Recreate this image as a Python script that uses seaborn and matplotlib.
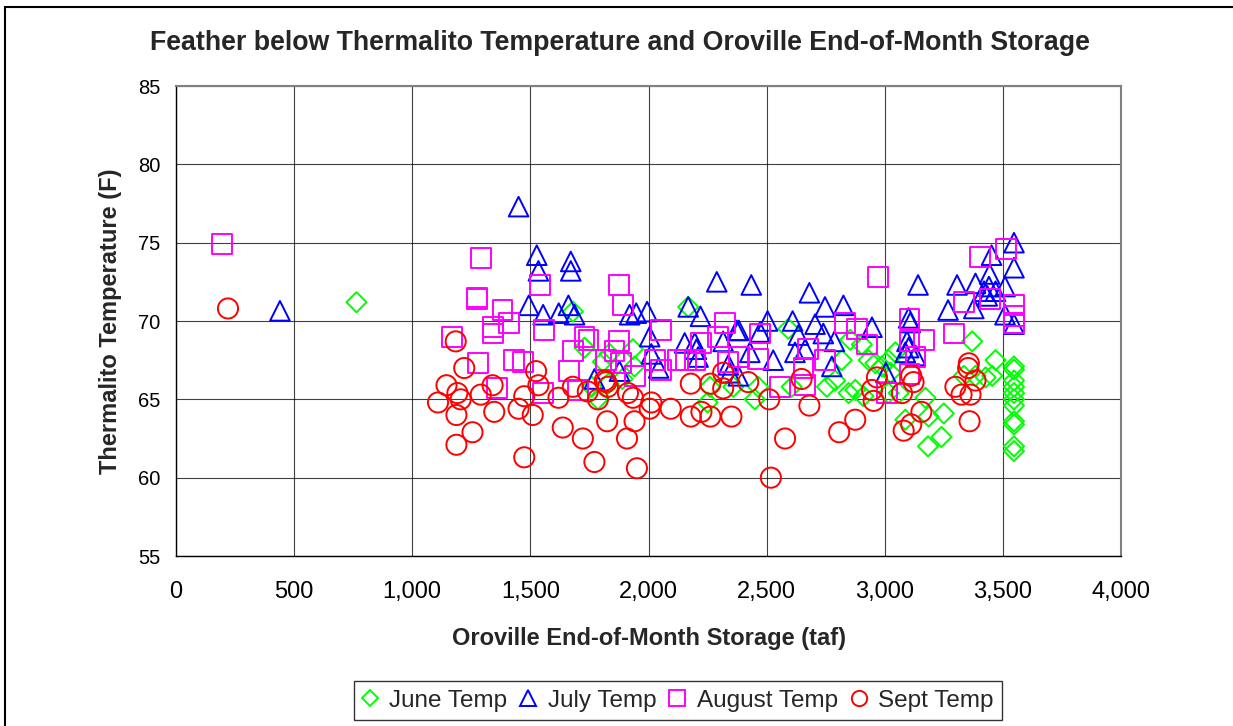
import matplotlib
matplotlib.use("Agg")
import matplotlib.pyplot as plt
import matplotlib.ticker as mticker
from matplotlib.lines import Line2D
from matplotlib.patches import Rectangle
import seaborn as sns
import pandas as pd

# ---------------- data ----------------
june_storage = [764, 1680, 2168, 1729, 1807, 1835, 1934, 1941, 1786, 1890, 1760, 1830,
                2260, 2250, 2359, 2592, 2450, 2464, 2606, 2755, 2790, 2818, 2847, 2875,
                2854, 2903, 2932, 2960, 2988, 3024, 3045, 2910, 3016, 3172, 3186, 3250,
                3087, 3240, 3183, 3370, 3335, 3384, 3469, 3427, 3455, 3547, 3547, 3547,
                3547, 3547, 3547, 3547, 3547, 3547, 3547, 3547, 3059, 3016]
june_temp = [71.2, 70.6, 70.9, 68.3, 67.4, 67.9, 68.2, 67.1, 65.0, 66.3, 65.8, 66.0,
             65.8, 64.8, 65.8, 69.5, 65.0, 65.8, 65.8, 65.8, 66.2, 67.5, 65.4, 65.6,
             68.8, 68.5, 67.5, 67.3, 67.1, 66.7, 68.0, 65.2, 65.4, 65.1, 63.9, 64.1,
             63.7, 62.6, 62.0, 68.7, 66.5, 66.5, 67.5, 66.4, 66.5, 67.1, 66.9, 66.2,
             65.8, 65.4, 65.0, 64.6, 63.6, 63.4, 62.0, 61.7, 65.4, 67.5]

july_storage = [440, 1450, 1527, 1534, 1671, 1671, 1493, 1554, 1620, 1661, 1687, 2289,
                2168, 2220, 1920, 1948, 1994, 2005, 2153, 2196, 2316, 2373, 2012, 2043,
                1877, 1771, 2210, 2338, 2435, 2681, 2747, 2825, 2382, 2472, 2504, 2610,
                2634, 2705, 2740, 2787, 2946, 2203, 2528, 2429, 2620, 2663, 2776, 3005,
                2344, 2380, 3101, 3108, 3101, 3094, 3130, 3141, 3268, 3306, 3384, 3547,
                3452, 3547, 3444, 3441, 3420, 3469, 3509, 3434, 3377, 3509, 3547, 3087]
july_temp = [70.65, 77.3, 74.2, 73.2, 73.8, 73.2, 71.0, 70.4, 70.5, 71.0, 70.4, 72.5,
             70.9, 70.3, 70.4, 70.5, 70.6, 69.0, 68.6, 68.6, 68.7, 69.4, 67.9, 67.0,
             66.8, 66.3, 67.7, 67.2, 72.3, 71.8, 70.9, 71.0, 69.4, 69.3, 70.0, 70.0,
             69.1, 69.8, 69.2, 68.7, 69.6, 68.2, 67.5, 68.0, 68.0, 68.2, 67.1, 66.7,
             66.7, 66.5, 70.2, 69.9, 68.3, 68.7, 67.8, 72.3, 70.7, 72.3, 72.4, 75.0,
             74.2, 73.4, 73.0, 72.2, 71.9, 71.9, 72.2, 71.6, 70.8, 70.4, 69.8, 68.0]

august_storage = [195, 1290, 1273, 1273, 1382, 1408, 1340, 1340, 1170, 1542, 1875, 1892,
                  1559, 2052, 2323, 1729, 1746, 1875, 1856, 1680, 1665, 1279, 1432, 1467,
                  1358, 1552, 1701, 1885, 1941, 2026, 2054, 2125, 2196, 2224, 2295, 2338,
                  1821, 2970, 2472, 2832, 2882, 2924, 2677, 2656, 2663, 2556, 2747, 2382,
                  2160, 2464, 3105, 3105, 3165, 3130, 3292, 3335, 3405, 3105, 3009, 3512,
                  3444, 3547, 3547, 3547]
august_temp = [74.9, 74.0, 71.5, 71.4, 70.7, 69.9, 69.6, 69.2, 69.0, 72.3, 72.3, 71.0,
               69.4, 69.4, 69.9, 69.0, 68.8, 68.7, 68.1, 68.1, 66.8, 67.3, 67.5, 67.4,
               65.7, 65.4, 65.6, 67.3, 66.5, 67.5, 66.9, 67.5, 67.5, 68.6, 69.0, 67.4,
               67.5, 72.8, 69.2, 69.9, 69.5, 68.5, 68.2, 67.0, 65.9, 65.8, 67.5, 67.7,
               67.5, 67.6, 70.1, 68.7, 68.8, 67.7, 69.2, 71.2, 74.1, 66.6, 65.4, 74.6,
               71.4, 71.0, 70.3, 69.9]

sept_storage = [220, 1184, 1220, 1145, 1191, 1205, 1109, 1187, 1255, 1187, 1290, 1340,
                1347, 1450, 1474, 1524, 1534, 1510, 1474, 1619, 1637, 1680, 1722, 1743,
                1771, 1786, 1821, 1828, 1825, 1815, 1913, 1934, 1909, 1941, 1951, 2012,
                2005, 2094, 2179, 2179, 2224, 2262, 2316, 2316, 2351, 2262, 2422, 2511,
                2578, 2518, 2648, 2681, 2807, 2875, 2946, 2967, 2953, 3073, 3112, 3122,
                3080, 3112, 3155, 3299, 3325, 3356, 3353, 3363, 3359, 3384]
sept_temp = [70.8, 68.7, 67.0, 65.9, 65.4, 65.0, 64.8, 64.0, 62.9, 62.1, 65.3, 65.9,
             64.2, 64.4, 65.2, 66.8, 65.9, 64.0, 61.3, 65.1, 63.2, 65.8, 62.5, 65.5,
             61.0, 65.0, 66.1, 65.8, 63.6, 66.2, 65.4, 65.1, 62.5, 63.6, 60.6, 64.8,
             64.4, 64.4, 66.0, 63.9, 64.2, 63.9, 65.7, 66.7, 63.9, 66.0, 66.1, 65.0,
             62.5, 60.0, 66.3, 64.6, 62.9, 63.7, 65.6, 66.4, 64.9, 65.4, 66.5, 66.1,
             63.0, 63.4, 64.2, 65.8, 65.3, 67.3, 67.0, 65.3, 63.6, 66.2]

series_labels = ["June Temp", "July Temp", "August Temp", "Sept Temp"]
x_ticks = [0, 500, 1000, 1500, 2000, 2500, 3000, 3500, 4000]
y_ticks = [55, 60, 65, 70, 75, 80, 85]

title = "Feather below Thermalito Temperature and Oroville End-of-Month Storage"
x_label = "Oroville End-of-Month Storage (taf)"
y_label = "Thermalito Temperature (F)"

# ---------------- styling ----------------
sns.set_style("white")
plt.rcParams['font.family'] = ['Liberation Sans', 'DejaVu Sans']

colors = ["#00FF00", "#0000FF", "#FF00FF", "#FF0000"]
markers = ["D", "^", "s", "o"]
sizes = [105, 200, 205, 210]

frames = []
for lab, xs, ys in zip(series_labels,
                       [june_storage, july_storage, august_storage, sept_storage],
                       [june_temp, july_temp, august_temp, sept_temp]):
    frames.append(pd.DataFrame({"storage": xs, "temp": ys, "series": lab}))
df = pd.concat(frames, ignore_index=True)

fig = plt.figure(figsize=(12.33, 7.26), dpi=100)
ax = fig.add_axes([176 / 1233, 1 - 556 / 726, (1121 - 176) / 1233, (556 - 86) / 726])

for lab, col, mk, sz in zip(series_labels, colors, markers, sizes):
    sub = df[df["series"] == lab]
    sns.scatterplot(data=sub, x="storage", y="temp", marker=mk, s=sz, ax=ax,
                    legend=False, zorder=3)
    coll = ax.collections[-1]
    coll.set_facecolor("none")
    coll.set_edgecolor(col)
    coll.set_linewidth(1.4)

ax.set_xlim(0, 4000)
ax.set_ylim(55, 85)
ax.set_xticks(x_ticks)
ax.set_yticks(y_ticks)
ax.xaxis.set_major_formatter(mticker.FuncFormatter(lambda v, p: f"{int(v):,}"))
ax.grid(True, color="#000000", linewidth=0.8, alpha=0.75)
ax.set_axisbelow(True)

for side in ["top", "right"]:
    ax.spines[side].set_color("#808080")
    ax.spines[side].set_linewidth(1.5)
for side in ["left", "bottom"]:
    ax.spines[side].set_color("#000000")
    ax.spines[side].set_linewidth(1.0)

ax.tick_params(axis="both", direction="out", length=6, width=0.9, color="black",
               labelcolor="black")
ax.tick_params(axis="x", pad=12, labelsize=17)
ax.tick_params(axis="y", pad=5, labelsize=14.5)

ax.set_xlabel(x_label, fontsize=17, fontweight="bold", labelpad=17.5)
ax.set_ylabel(y_label, fontsize=17, fontweight="bold", labelpad=12)
fig.text(0.503, 1 - 43 / 726, title, ha="center", va="center", fontsize=19.3,
         fontweight="bold")

# outer chart border (extends past right / bottom edges)
fig.patches.append(Rectangle((5 / 1233, -0.1), 1.2, 1.1 - 7 / 726, transform=fig.transFigure,
                             fill=False, edgecolor="black", linewidth=1.5, clip_on=False))

handles = [Line2D([0], [0], linestyle="none", marker=mk, markersize=ms,
                  markerfacecolor="none", markeredgecolor=col, markeredgewidth=1.4)
           for mk, col, ms in zip(markers, colors, [8, 11, 12, 11])]
leg = fig.legend(handles, series_labels, loc="upper center",
                 bbox_to_anchor=(678 / 1233, 1 - 681 / 726), ncol=4, fontsize=17.5,
                 frameon=True, fancybox=False, edgecolor="black", handlelength=0.6,
                 handletextpad=0.5, columnspacing=0.56, borderpad=0.35,
                 borderaxespad=0)
leg.get_frame().set_linewidth(1.0)

fig.savefig("out.png", dpi=100)
